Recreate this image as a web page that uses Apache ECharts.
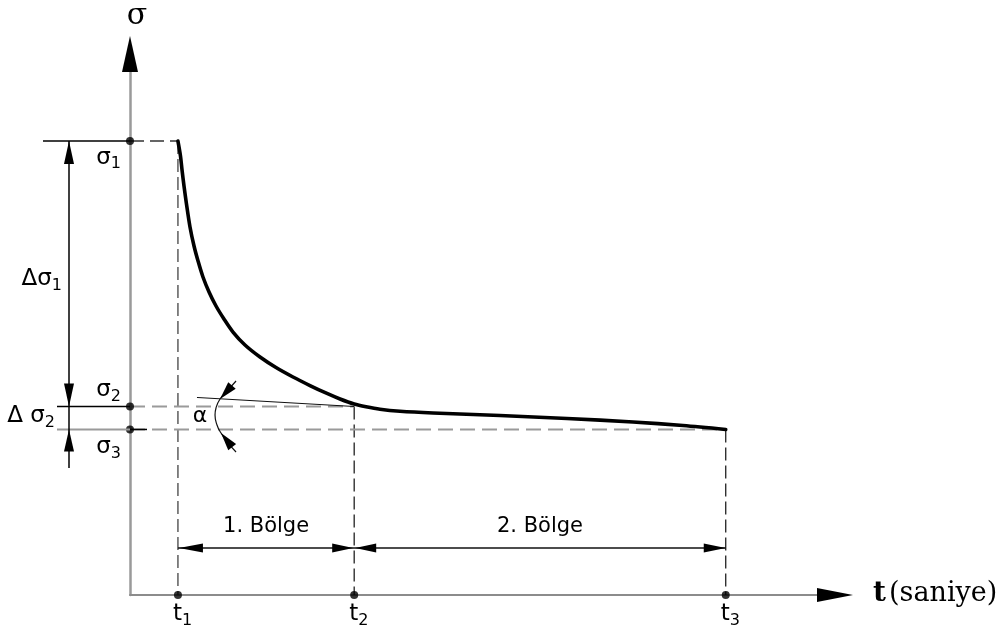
<!DOCTYPE html>
<html>
<head>
<meta charset="utf-8">
<script src="https://cdn.jsdelivr.net/npm/echarts@6/dist/echarts.min.js"></script>
<style>
  html, body { margin: 0; padding: 0; background: #ffffff; }
  #chart { width: 1008px; height: 632px; }
</style>
</head>
<body>
<div id="chart"></div>
<script>
// ---------------- data (arbitrary units: t along x, sigma along y) ----------------
const tNames = ['1', '2', '3'];
const tValues = [6.8, 31.8, 84.5];
const sigmaNames = ['1', '2', '3'];
const sigmaValues = [83.9, 34.84, 30.6];
const curveT = [6.8, 7.16, 7.38, 7.66, 8.01, 8.51, 9.08, 9.65, 10.35, 11.21, 12.20, 13.33, 14.61, 16.31, 18.44, 20.71, 23.12, 25.53, 27.94, 29.79, 31.8, 33.48, 35.46, 38.30, 42.98, 52.48, 61.99, 71.35, 78.44, 84.5];
const curveSigma = [83.9, 81.15, 78.56, 75.60, 72.27, 68.02, 64.51, 61.74, 58.78, 56.01, 53.42, 51.02, 48.61, 46.21, 43.99, 42.05, 40.30, 38.72, 37.25, 36.23, 35.30, 34.79, 34.33, 33.96, 33.64, 33.18, 32.62, 31.98, 31.33, 30.6];
const tangentT = [9.5, 31.8];
const tangentSigma = [36.51, 34.84];
const alphaArcT = [15.04, 13.90, 12.77, 12.20, 12.06, 12.34, 12.91, 13.90, 15.04];
const alphaArcSigma = [39.56, 37.89, 36.23, 34.57, 33.27, 31.42, 29.94, 28.10, 26.43];
const zoneNames = ['1. Bölge', '2. Bölge'];
const deltaNames = ['Δσ', 'Δ σ'];
const yTitle = 'σ';
const xTitle = 't';
const xUnit = '(saniye)';
const alphaName = 'α';
const axisMax = 100;

// ---------------- build ----------------
const zip = (a, b) => a.map((v, i) => [v, b[i]]);
const seg = (p, q, color, width, dash) => ({
  type: 'line', data: [p, q], showSymbol: false, silent: true, clip: false,
  lineStyle: { color: color, width: width, type: dash || 'solid' }, z: 3
});

const series = [];
// guide lines
series.push(seg([0, sigmaValues[0]], [tValues[0], sigmaValues[0]], '#333', 1.5, [14, 6]));
series.push(seg([tValues[0], sigmaValues[0]], [tValues[0], 0], '#444', 1.3, [13, 5]));
series.push(seg([tValues[1], sigmaValues[1]], [tValues[1], 0], '#222', 1.3, [13, 5]));
series.push(seg([tValues[2], sigmaValues[2]], [tValues[2], 0], '#222', 1.3, [13, 5]));
series.push(seg([0, sigmaValues[1]], [tValues[1], sigmaValues[1]], '#9a9a9a', 2, [15, 7]));
series.push(seg([0, sigmaValues[2]], [tValues[2], sigmaValues[2]], '#9a9a9a', 2, [15, 7]));
// tangent
series.push(seg([tangentT[0], tangentSigma[0]], [tangentT[1], tangentSigma[1]], '#111', 1));
// alpha arc
series.push({
  type: 'line', data: zip(alphaArcT, alphaArcSigma), smooth: 0.5, showSymbol: false, silent: true, clip: false,
  lineStyle: { color: '#111', width: 1.2 }, z: 3
});
// main curve
series.push({
  type: 'line', name: 'sigma(t)', data: zip(curveT, curveSigma), smooth: 0.3,
  showSymbol: false, silent: true, clip: false,
  lineStyle: { color: '#000', width: 3.6, join: 'round', cap: 'round' }, z: 5
});
// dots
series.push({
  type: 'scatter', silent: true, clip: false, symbolSize: 8, z: 6,
  itemStyle: { color: '#000' },
  data: sigmaValues.map(s => [0, s]).concat(tValues.map(t => [t, 0]))
});

// annotations (extension lines, dimension lines, arrowheads, texts)
function renderAnno(params, api) {
  const P = (x, y) => api.coord([x, y]);
  const o = P(0, 0);
  const s = sigmaValues.map(v => P(0, v));
  const ts = tValues.map(v => P(v, 0));
  const yTop = P(0, axisMax);
  const xEnd = P(axisMax, 0);
  const ch = [];
  const line = (a, b, stroke, w) => ch.push({ type: 'line', shape: { x1: a[0], y1: a[1], x2: b[0], y2: b[1] }, style: { stroke: stroke, lineWidth: w } });
  const arrow = (tip, dir, len, hw) => {
    const bx = tip[0] - dir[0] * len, by = tip[1] - dir[1] * len;
    const px = -dir[1], py = dir[0];
    ch.push({ type: 'polygon', shape: { points: [tip, [bx + px * hw, by + py * hw], [bx - px * hw, by - py * hw]] }, style: { fill: '#000' } });
  };
  const unit = (a, b) => { const dx = b[0] - a[0], dy = b[1] - a[1]; const l = Math.hypot(dx, dy); return [dx / l, dy / l]; };
  const sub = (main, subTxt, x, y, align, fs, ss, family) => ch.push({
    type: 'text', x: x, y: y,
    style: {
      text: '{m|' + main + '}{s|' + subTxt + '}', align: align, verticalAlign: 'middle',
      rich: {
        m: { fontSize: fs, fontFamily: family || 'DejaVu Sans', lineHeight: fs + 3, verticalAlign: 'top', fill: '#000' },
        s: { fontSize: ss, fontFamily: 'DejaVu Sans', lineHeight: ss, verticalAlign: 'bottom', fill: '#000' }
      }
    }
  });
  const txt = (t, x, y, align, font) => ch.push({ type: 'text', x: x, y: y, style: { text: t, align: align, verticalAlign: 'middle', font: font, fill: '#000' } });

  // extension lines left of the sigma axis
  line([o[0] - 87, s[0][1]], s[0], '#000', 1.5);
  line([o[0] - 73, s[1][1]], s[1], '#000', 1.5);
  line([o[0] - 73, s[2][1]], s[2], '#9a9a9a', 2);
  line(s[2], [s[2][0] + 17, s[2][1]], '#000', 1.5);

  // delta-sigma dimension line
  const dx = o[0] - 61;
  line([dx, s[0][1]], [dx, o[1] - 127], '#000', 1.5);
  arrow([dx, s[0][1]], [0, -1], 23, 5);
  arrow([dx, s[1][1]], [0, 1], 23, 5);
  arrow([dx, s[2][1]], [0, -1], 22, 5);

  // zone dimension line
  const dy = o[1] - 47;
  line([ts[0][0], dy], [ts[2][0], dy], '#111', 1.3);
  arrow([ts[0][0] + 1, dy], [-1, 0], 24, 4.5);
  arrow([ts[1][0] - 1, dy], [1, 0], 21, 4.5);
  arrow([ts[1][0] + 1, dy], [-1, 0], 21, 4.5);
  arrow([ts[2][0], dy], [1, 0], 22, 4.5);

  // axis arrowheads
  arrow([yTop[0], yTop[1] - 18], [0, -1], 36, 8);
  arrow([xEnd[0] + 18, xEnd[1]], [1, 0], 36, 7);

  // alpha arc arrowheads
  const arc = alphaArcT.map((t, i) => P(t, alphaArcSigma[i]));
  arrow(arc[2], unit(arc[0], arc[2]), 18, 5);
  arrow(arc[6], unit(arc[8], arc[6]), 18, 5);

  // texts
  txt(yTitle, o[0] + 7, yTop[1] - 38, 'center', '30px "DejaVu Serif"');
  txt(xTitle, xEnd[0] + 38, o[1] - 1, 'left', 'bold 28px "DejaVu Serif"');
  txt(xUnit, xEnd[0] + 54, o[1] - 1, 'left', '27px "DejaVu Serif"');
  sub('σ', sigmaNames[0], o[0] - 9, s[0][1] + 18, 'right', 23, 16);
  sub('σ', sigmaNames[1], o[0] - 9, s[1][1] - 15, 'right', 23, 16);
  sub('σ', sigmaNames[2], o[0] - 9, s[2][1] + 19, 'right', 23, 16);
  sub(deltaNames[0], sigmaNames[0], dx - 7, (s[0][1] + s[1][1]) / 2 + 7, 'right', 23, 16);
  sub(deltaNames[1], sigmaNames[1], dx - 14, (s[1][1] + s[2][1]) / 2, 'right', 23, 16);
  tNames.forEach((n, i) => sub('t', n, ts[i][0] - 5, o[1] + 21, 'left', 23, 16));
  txt(zoneNames[0], (ts[0][0] + ts[1][0]) / 2, dy - 21, 'center', '21px "DejaVu Sans"');
  txt(zoneNames[1], (ts[1][0] + ts[2][0]) / 2, dy - 21, 'center', '21px "DejaVu Sans"');
  const arcMinX = Math.min.apply(null, arc.map(p => p[0]));
  txt(alphaName, arcMinX - 15, arc[4][1] + 1, 'center', '22px "DejaVu Sans"');

  return { type: 'group', children: ch };
}
series.push({ type: 'custom', renderItem: renderAnno, data: [[0, 0]], silent: true, z: 7 });

const axisCommon = {
  type: 'value', min: 0, max: axisMax,
  axisLine: { show: true, onZero: false, lineStyle: { color: '#8c8c8c', width: 2 } },
  axisTick: { show: false }, axisLabel: { show: false }, splitLine: { show: false }
};

const chart = echarts.init(document.getElementById('chart'), null, { renderer: 'canvas' });
chart.setOption({
  backgroundColor: '#ffffff',
  animation: false,
  grid: { left: 130, right: 173, top: 54, bottom: 37, containLabel: false },
  xAxis: Object.assign({}, axisCommon),
  yAxis: Object.assign({}, axisCommon, { axisLine: { show: true, onZero: false, lineStyle: { color: '#9a9a9a', width: 2.5 } } }),
  series: series
});
</script>
</body>
</html>
